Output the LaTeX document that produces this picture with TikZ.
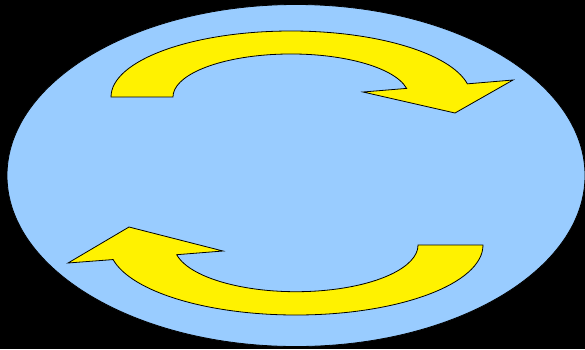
\documentclass[tikz,border=0pt]{standalone}
\begin{document}
\begin{tikzpicture}[x=1pt,y=1pt,
  arrowshape/.style={fill=yellow, draw=black, line width=0.8pt, line join=miter},
  disc/.style={fill={rgb,255:red,153;green,204;blue,255}, draw=black, line width=0.8pt}]
\fill[black] (0,0) rectangle (585,-349);
\useasboundingbox (0,0) rectangle (585,-349);
\filldraw[disc] (296,-175.5) ellipse [x radius=289, y radius=171];
% upper arrow (clockwise, pointing right/down)
\draw[arrowshape] (111,-97)
  arc[start angle=180, end angle=11.5, x radius=180, y radius=66]
  -- (513,-80) -- (455,-113) -- (363,-92) -- (406.6,-88.4)
  arc[start angle=11.5, end angle=180, x radius=118, y radius=43]
  -- cycle;
% lower arrow (pointing left/up)
\draw[arrowshape] (483,-245)
  arc[start angle=0, end angle=-168, x radius=187, y radius=70]
  -- (68,-263) -- (129,-227) -- (223,-251) -- (176.7,-254.7)
  arc[start angle=-168, end angle=0, x radius=122, y radius=46.7]
  -- cycle;
\end{tikzpicture}
\end{document}
